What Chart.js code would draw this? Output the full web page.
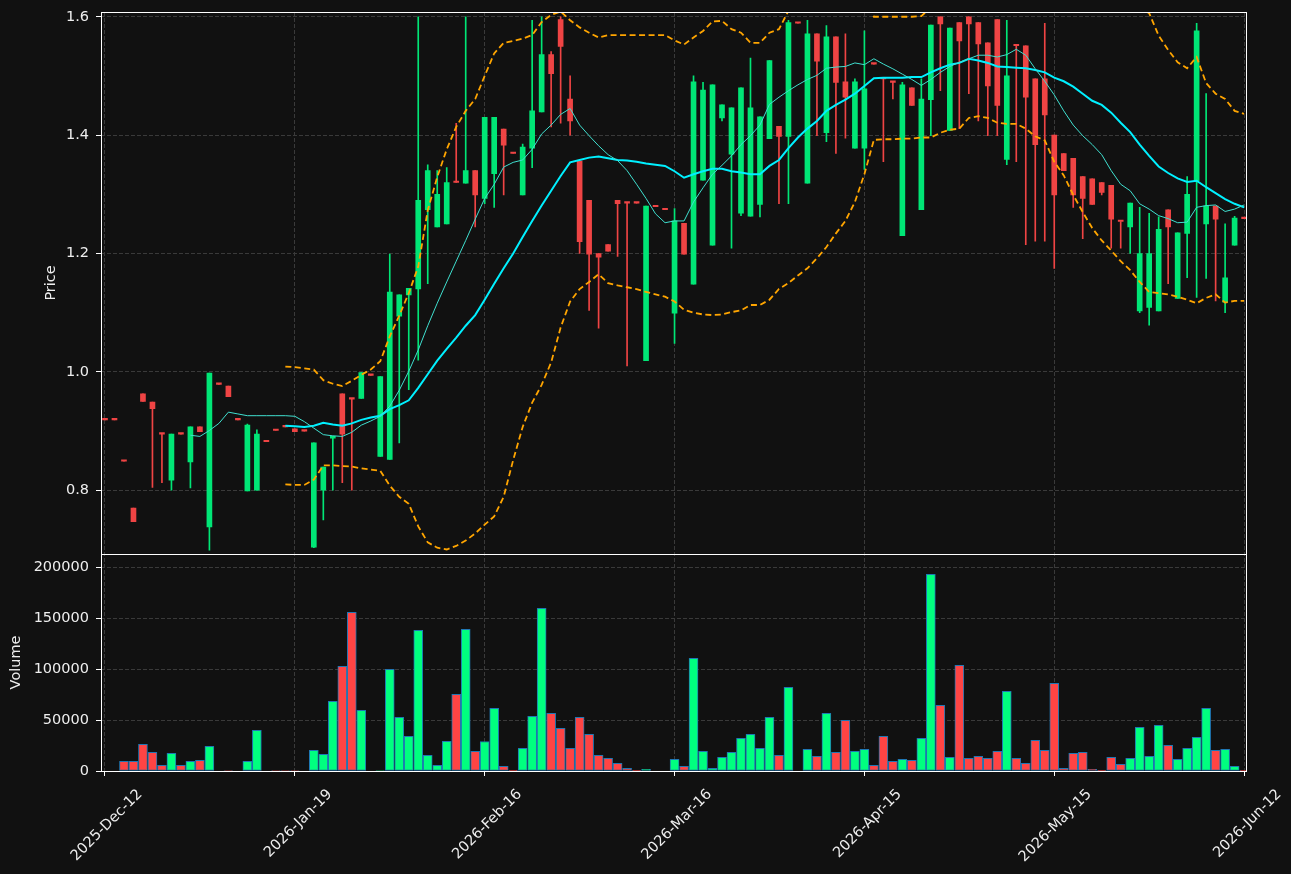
<!DOCTYPE html>
<html>
<head>
<meta charset="utf-8">
<title>Price and volume</title>
<script src="https://cdn.jsdelivr.net/npm/chart.js@4.4.1/dist/chart.umd.min.js"></script>
<style>
  html, body { margin: 0; padding: 0; background: #111111; }
  #chart { display: block; }
</style>
</head>
<body>
<canvas id="chart" width="1291" height="874"></canvas>
<script>
// x ticks (candle index -> date label)
const tickPos = [0, 20, 40, 60, 80, 100, 120];
const tickLabels = ['2025-Dec-12', '2026-Jan-19', '2026-Feb-16', '2026-Mar-16', '2026-Apr-15', '2026-May-15', '2026-Jun-12'];
const volTicks = [0, 50000, 100000, 150000, 200000];

// OHLC, one value per candle (121 candles)
const open = [
  0.919, 0.919, 0.849, 0.770, 0.963, 0.949, 0.895, 0.817, 0.895, 0.848,
  0.907, 0.738, 0.979, 0.976, 0.919, 0.799, 0.800, 0.882, 0.901, 0.907,
  0.904, 0.900, 0.704, 0.800, 0.888, 0.963, 0.954, 0.955, 0.994, 0.857,
  0.852, 1.094, 1.130, 1.140, 1.274, 1.245, 1.250, 1.320, 1.319, 1.340,
  1.293, 1.335, 1.410, 1.369, 1.299, 1.378, 1.439, 1.536, 1.595, 1.461,
  1.356, 1.290, 1.200, 1.215, 1.290, 1.285, 1.285, 1.019, 1.279, 1.274,
  1.099, 1.251, 1.148, 1.324, 1.214, 1.429, 1.368, 1.268, 1.263, 1.283,
  1.394, 1.415, 1.398, 1.589, 1.319, 1.571, 1.404, 1.566, 1.490, 1.378,
  1.378, 1.520, 1.495, 1.489, 1.230, 1.480, 1.274, 1.460, 1.600, 1.408,
  1.590, 1.600, 1.590, 1.556, 1.595, 1.359, 1.551, 1.551, 1.495, 1.495,
  1.400, 1.369, 1.361, 1.330, 1.326, 1.320, 1.315, 1.254, 1.245, 1.103,
  1.109, 1.103, 1.274, 1.124, 1.234, 1.323, 1.250, 1.280, 1.118, 1.214,
  1.259
];
const high = [
  0.919, 0.919, 0.849, 0.770, 0.963, 0.949, 0.895, 0.895, 0.895, 0.907,
  0.907, 0.998, 0.979, 0.976, 0.919, 0.912, 0.902, 0.882, 0.901, 0.907,
  0.904, 0.900, 0.880, 0.839, 0.891, 0.963, 0.954, 0.999, 0.994, 0.992,
  1.199, 1.130, 1.141, 1.600, 1.350, 1.340, 1.345, 1.420, 1.600, 1.340,
  1.430, 1.430, 1.410, 1.369, 1.385, 1.594, 1.600, 1.541, 1.600, 1.500,
  1.356, 1.290, 1.200, 1.215, 1.290, 1.285, 1.285, 1.280, 1.279, 1.274,
  1.276, 1.251, 1.500, 1.489, 1.485, 1.451, 1.446, 1.480, 1.530, 1.431,
  1.526, 1.415, 1.594, 1.589, 1.594, 1.571, 1.585, 1.566, 1.571, 1.495,
  1.576, 1.520, 1.495, 1.489, 1.489, 1.480, 1.495, 1.586, 1.600, 1.581,
  1.590, 1.600, 1.590, 1.556, 1.595, 1.594, 1.551, 1.551, 1.495, 1.589,
  1.400, 1.369, 1.361, 1.330, 1.326, 1.320, 1.315, 1.254, 1.285, 1.278,
  1.268, 1.262, 1.274, 1.235, 1.330, 1.589, 1.470, 1.280, 1.250, 1.263,
  1.259
];
const low = [
  0.919, 0.919, 0.849, 0.747, 0.950, 0.805, 0.813, 0.800, 0.895, 0.804,
  0.899, 0.699, 0.979, 0.958, 0.919, 0.799, 0.800, 0.882, 0.901, 0.907,
  0.899, 0.900, 0.703, 0.750, 0.800, 0.813, 0.800, 0.955, 0.994, 0.857,
  0.852, 0.880, 0.970, 1.020, 1.149, 1.245, 1.250, 1.320, 1.319, 1.245,
  1.284, 1.278, 1.299, 1.369, 1.299, 1.345, 1.439, 1.414, 1.420, 1.400,
  1.200, 1.104, 1.074, 1.204, 1.195, 1.010, 1.285, 1.019, 1.279, 1.274,
  1.048, 1.199, 1.148, 1.324, 1.214, 1.424, 1.209, 1.264, 1.263, 1.262,
  1.394, 1.284, 1.284, 1.589, 1.319, 1.399, 1.389, 1.369, 1.395, 1.378,
  1.342, 1.520, 1.355, 1.461, 1.230, 1.450, 1.274, 1.399, 1.475, 1.408,
  1.411, 1.470, 1.424, 1.399, 1.399, 1.350, 1.355, 1.215, 1.221, 1.221,
  1.175, 1.340, 1.278, 1.225, 1.283, 1.299, 1.209, 1.209, 1.200, 1.100,
  1.079, 1.103, 1.149, 1.124, 1.159, 1.126, 1.158, 1.120, 1.100, 1.214,
  1.259
];
const close = [
  0.919, 0.919, 0.849, 0.747, 0.950, 0.938, 0.895, 0.895, 0.895, 0.907,
  0.899, 0.998, 0.979, 0.958, 0.919, 0.910, 0.895, 0.882, 0.901, 0.907,
  0.899, 0.900, 0.880, 0.839, 0.891, 0.895, 0.954, 0.999, 0.994, 0.992,
  1.135, 1.130, 1.141, 1.290, 1.340, 1.300, 1.320, 1.320, 1.340, 1.299,
  1.430, 1.430, 1.383, 1.369, 1.380, 1.441, 1.536, 1.504, 1.550, 1.424,
  1.220, 1.199, 1.194, 1.204, 1.284, 1.285, 1.285, 1.280, 1.279, 1.274,
  1.255, 1.199, 1.490, 1.476, 1.485, 1.451, 1.446, 1.480, 1.446, 1.431,
  1.526, 1.398, 1.590, 1.589, 1.571, 1.525, 1.566, 1.489, 1.464, 1.490,
  1.478, 1.520, 1.495, 1.489, 1.485, 1.450, 1.461, 1.586, 1.588, 1.581,
  1.559, 1.588, 1.554, 1.483, 1.450, 1.500, 1.551, 1.464, 1.384, 1.434,
  1.299, 1.340, 1.299, 1.293, 1.283, 1.303, 1.258, 1.254, 1.285, 1.200,
  1.200, 1.241, 1.245, 1.235, 1.300, 1.576, 1.280, 1.258, 1.159, 1.260,
  1.259
];
const volume = [
  0, 0, 9500, 9500, 26100, 18300, 5600, 17300, 5600, 9500,
  10500, 24200, 0, 500, 0, 9500, 39900, 0, 500, 500,
  500, 0, 20300, 16300, 68300, 102600, 155600, 59500, 0, 500,
  99700, 52600, 34000, 137900, 15400, 5600, 29100, 75200, 138900, 19300,
  28900, 61400, 4600, 600, 22200, 53600, 159500, 56500, 41800, 22200,
  52600, 35900, 15400, 12400, 7500, 2600, 600, 1600, 0, 0,
  11400, 4600, 110500, 19300, 2600, 13400, 18300, 32000, 35900, 22200,
  52600, 15400, 82000, 0, 21200, 14400, 56500, 18300, 49700, 19300,
  21200, 5600, 34000, 9500, 11400, 10500, 32000, 192800, 64400, 13400,
  103600, 12400, 14400, 12400, 19300, 78100, 12400, 7500, 30100, 20300,
  85900, 2600, 17300, 18300, 1600, 600, 13400, 6500, 12400, 42800,
  14400, 44800, 25200, 11400, 22200, 33000, 61400, 20300, 21200, 4600,
  600
];

// overlay lines (null = not drawn yet)
const ma10 = [
  null, null, null, null, null, null, null, null, null, 0.893,
  0.891, 0.901, 0.913, 0.932, 0.929, 0.926, 0.926, 0.926, 0.926, 0.926,
  0.925, 0.916, 0.905, 0.894, 0.892, 0.891, 0.898, 0.910, 0.917, 0.925,
  0.942, 0.969, 1.001, 1.037, 1.078, 1.116, 1.152, 1.187, 1.222, 1.258,
  1.293, 1.317, 1.346, 1.354, 1.358, 1.376, 1.402, 1.417, 1.435, 1.445,
  1.417, 1.399, 1.382, 1.367, 1.357, 1.340, 1.317, 1.293, 1.267, 1.252,
  1.255, 1.255, 1.287, 1.311, 1.334, 1.349, 1.365, 1.384, 1.399, 1.417,
  1.452, 1.464, 1.475, 1.485, 1.494, 1.501, 1.513, 1.515, 1.516, 1.522,
  1.519, 1.529, 1.520, 1.512, 1.503, 1.494, 1.484, 1.494, 1.506, 1.516,
  1.523, 1.529, 1.535, 1.535, 1.532, 1.536, 1.545, 1.535, 1.512, 1.491,
  1.468, 1.441, 1.417, 1.399, 1.384, 1.367, 1.340, 1.317, 1.306, 1.284,
  1.275, 1.264, 1.259, 1.252, 1.253, 1.278, 1.281, 1.282, 1.271, 1.275,
  1.282
];
const ma20 = [
  null, null, null, null, null, null, null, null, null, null,
  null, null, null, null, null, null, null, null, null, 0.909,
  0.908, 0.907, 0.909, 0.914, 0.911, 0.909, 0.913, 0.919, 0.923, 0.926,
  0.937, 0.944, 0.952, 0.973, 0.996, 1.019, 1.039, 1.058, 1.078, 1.096,
  1.122, 1.149, 1.175, 1.200, 1.228, 1.255, 1.281, 1.306, 1.331, 1.354,
  1.358, 1.362, 1.364, 1.361, 1.358, 1.357, 1.355, 1.352, 1.350, 1.348,
  1.339, 1.328, 1.334, 1.339, 1.343, 1.343, 1.339, 1.337, 1.334, 1.334,
  1.348, 1.358, 1.378, 1.396, 1.411, 1.424, 1.441, 1.451, 1.460, 1.470,
  1.483, 1.496, 1.497, 1.497, 1.497, 1.498, 1.498, 1.506, 1.513, 1.519,
  1.522, 1.529, 1.526, 1.522, 1.516, 1.515, 1.514, 1.513, 1.510, 1.506,
  1.497, 1.491, 1.482, 1.470, 1.458, 1.451, 1.438, 1.421, 1.405, 1.384,
  1.365, 1.347, 1.336, 1.327, 1.321, 1.323, 1.312, 1.302, 1.292, 1.284,
  1.278
];
const bandUpper = [
  null, null, null, null, null, null, null, null, null, null,
  null, null, null, null, null, null, null, null, null, 1.009,
  1.008, 1.006, 1.004, 0.986, 0.980, 0.976, 0.985, 0.995, 1.004, 1.018,
  1.060, 1.095, 1.133, 1.178, 1.273, 1.329, 1.376, 1.414, 1.441, 1.461,
  1.500, 1.538, 1.556, 1.559, 1.563, 1.569, 1.591, 1.603, 1.609, 1.594,
  1.582, 1.573, 1.565, 1.569, 1.569, 1.569, 1.569, 1.569, 1.569, 1.569,
  1.560, 1.553, 1.565, 1.576, 1.592, 1.593, 1.579, 1.573, 1.556, 1.556,
  1.573, 1.579, 1.610, 1.630, 1.647, 1.656, 1.671, 1.668, 1.665, 1.653,
  1.632, 1.600, 1.600, 1.600, 1.600, 1.600, 1.601, 1.616, 1.622, 1.629,
  1.633, 1.629, 1.620, 1.615, 1.611, 1.608, 1.608, 1.615, 1.622, 1.621,
  1.642, 1.650, 1.665, 1.670, 1.673, 1.680, 1.671, 1.655, 1.638, 1.616,
  1.606, 1.568, 1.544, 1.523, 1.513, 1.532, 1.488, 1.470, 1.461, 1.441,
  1.436
];
const bandLower = [
  null, null, null, null, null, null, null, null, null, null,
  null, null, null, null, null, null, null, null, null, 0.810,
  0.809, 0.809, 0.818, 0.842, 0.842, 0.841, 0.840, 0.837, 0.835, 0.833,
  0.808, 0.789, 0.777, 0.739, 0.712, 0.703, 0.700, 0.706, 0.715, 0.727,
  0.742, 0.756, 0.789, 0.851, 0.907, 0.948, 0.978, 1.016, 1.075, 1.119,
  1.140, 1.152, 1.165, 1.150, 1.146, 1.143, 1.140, 1.135, 1.131, 1.127,
  1.119, 1.105, 1.100, 1.097, 1.096, 1.097, 1.101, 1.104, 1.113, 1.113,
  1.122, 1.140, 1.150, 1.163, 1.175, 1.192, 1.211, 1.234, 1.255, 1.287,
  1.334, 1.392, 1.393, 1.393, 1.394, 1.394, 1.396, 1.396, 1.404, 1.409,
  1.411, 1.429, 1.432, 1.429, 1.421, 1.419, 1.419, 1.411, 1.398, 1.391,
  1.355, 1.332, 1.299, 1.270, 1.243, 1.222, 1.205, 1.187, 1.172, 1.152,
  1.135, 1.133, 1.131, 1.127, 1.122, 1.116, 1.125, 1.131, 1.117, 1.120,
  1.120
];

const upColor = '#00e676';
const downColor = '#ef4444';
const volUp = '#00ff7f';
const volDown = '#ff4444';
const textColor = '#eeeeee';
const gridColor = '#3a3a3a';

Chart.defaults.font.family = "'DejaVu Sans', sans-serif";
Chart.defaults.font.size = 14.5;
Chart.defaults.color = textColor;

const idx = close.map((c, i) => i);
const isUp = idx.map(i => close[i] > open[i]);

function lineData(arr) {
  return idx.map(i => ({ x: i, y: arr[i] }));
}

// fixed axis width, no extra room for half tick labels
function fitYAxis(s) {
  s.width = 101;
  s.paddingTop = 0;
  s.paddingBottom = 0;
}

// white frame round each panel, like the matplotlib spines
const panelFrame = {
  id: 'panelFrame',
  afterDraw(chart) {
    const ctx = chart.ctx;
    const area = chart.chartArea;
    ctx.save();
    ctx.strokeStyle = '#ffffff';
    ctx.lineWidth = 1;
    ['yP', 'yV'].forEach(id => {
      const s = chart.scales[id];
      ctx.strokeRect(Math.round(area.left) + 0.5, Math.round(s.top) + 0.5,
        Math.round(area.right - area.left), Math.round(s.bottom - s.top));
    });
    ctx.restore();
  }
};

const lineBase = { type: 'line', yAxisID: 'yP', pointRadius: 0, tension: 0, order: 0, spanGaps: false };

new Chart(document.getElementById('chart'), {
  type: 'bar',
  data: {
    datasets: [
      Object.assign({}, lineBase, { label: 'SMA 10', data: lineData(ma10), borderColor: '#40e0d0', borderWidth: 1 }),
      Object.assign({}, lineBase, { label: 'SMA 20', data: lineData(ma20), borderColor: '#00f0ff', borderWidth: 2 }),
      Object.assign({}, lineBase, { label: 'Upper', data: lineData(bandUpper), borderColor: '#ffa500', borderWidth: 1.8, borderDash: [6, 3.5] }),
      Object.assign({}, lineBase, { label: 'Lower', data: lineData(bandLower), borderColor: '#ffa500', borderWidth: 1.8, borderDash: [6, 3.5] }),
      {
        label: 'Body',
        yAxisID: 'yP',
        data: idx.map(i => ({ x: i, y: [open[i], close[i]] })),
        backgroundColor: idx.map(i => isUp[i] ? upColor : downColor),
        barThickness: 5,
        minBarLength: 1.5,
        grouped: false,
        order: 1
      },
      {
        label: 'Wick',
        yAxisID: 'yP',
        data: idx.map(i => ({ x: i, y: [low[i], high[i]] })),
        backgroundColor: idx.map(i => isUp[i] ? upColor : downColor),
        barThickness: 1,
        grouped: false,
        order: 2
      },
      {
        label: 'Volume',
        yAxisID: 'yV',
        data: idx.map(i => ({ x: i, y: volume[i] })),
        backgroundColor: idx.map(i => isUp[i] ? volUp : volDown),
        borderColor: '#1f77b4',
        borderWidth: 1,
        borderSkipped: false,
        barThickness: 9,
        grouped: false,
        order: 3
      }
    ]
  },
  options: {
    responsive: false,
    animation: false,
    devicePixelRatio: 1,
    layout: { padding: { top: 12, right: 45, bottom: 0, left: 0 } },
    plugins: { legend: { display: false }, tooltip: { enabled: false } },
    scales: {
      x: {
        type: 'linear',
        min: -0.42,
        max: 120.2,
        offset: false,
        grid: { color: gridColor, offset: false, tickColor: '#ffffff', tickLength: 5 },
        border: { display: false, dash: [4, 2] },
        ticks: {
          autoSkip: false,
          maxRotation: 45,
          minRotation: 45,
          labelOffset: 35,
          padding: 10,
          color: textColor,
          callback: v => {
            const k = tickPos.indexOf(v);
            return k < 0 ? '' : tickLabels[k];
          }
        },
        afterBuildTicks: s => { s.ticks = tickPos.map(v => ({ value: v })); },
        afterFit: s => { s.height = 103; }
      },
      yV: {
        type: 'linear',
        position: 'left',
        stack: 'panels',
        stackWeight: 217,
        weight: 1,
        min: 0,
        max: 213000,
        grid: { color: gridColor, tickColor: '#ffffff', tickLength: 5 },
        border: { display: false, dash: [4, 2] },
        ticks: { padding: 7, color: textColor, callback: v => String(v) },
        afterBuildTicks: s => { s.ticks = volTicks.map(v => ({ value: v })); },
        title: { display: true, text: 'Volume', color: textColor, padding: { top: 8, bottom: 0 } },
        afterFit: fitYAxis
      },
      yP: {
        type: 'linear',
        position: 'left',
        stack: 'panels',
        stackWeight: 541.5,
        weight: 2,
        min: 0.6926,
        max: 1.608,
        grid: { color: gridColor, tickColor: '#ffffff', tickLength: 5 },
        border: { display: false, dash: [4, 2] },
        ticks: { stepSize: 0.2, includeBounds: false, padding: 7, color: textColor, callback: v => v.toFixed(1) },
        title: { display: true, text: 'Price', color: textColor, padding: { top: 43, bottom: 0 } },
        afterFit: fitYAxis
      }
    }
  },
  plugins: [panelFrame]
});
</script>
</body>
</html>
